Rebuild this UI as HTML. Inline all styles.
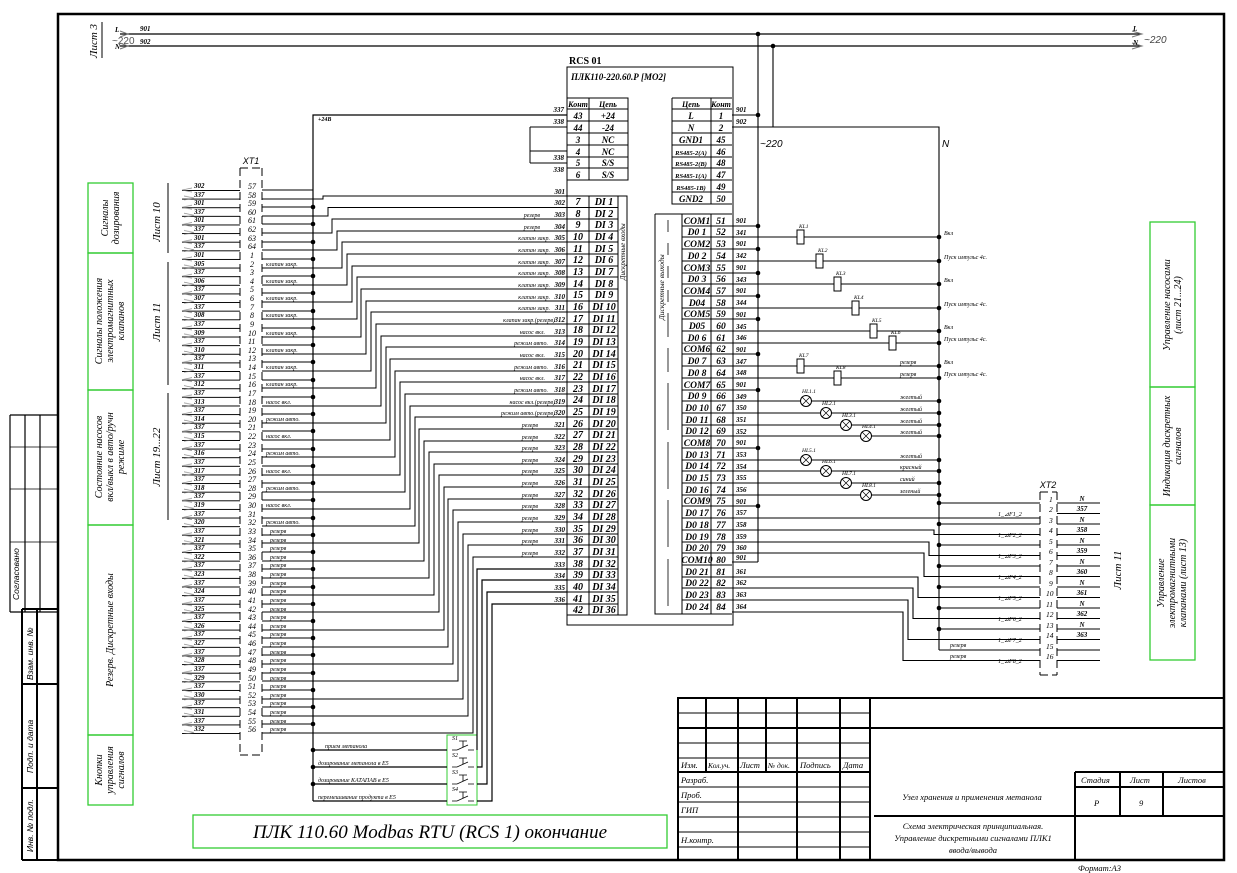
<!DOCTYPE html>
<html><head><meta charset="utf-8"><style>
html,body{margin:0;padding:0;background:#fff}
svg{display:block}
text{font-family:"Liberation Serif",serif;font-style:italic;fill:#000}
.n{font-size:7px;font-weight:bold}
.t{font-size:6px;font-style:normal}
.tb{font-size:10px;font-weight:bold;font-style:normal}
.tn{font-size:9px;font-style:italic}
.g{font-family:"Liberation Sans",sans-serif;font-style:italic;font-size:8.5px}
.gl{font-size:10px}
</style></head><body>
<svg width="1237" height="873" viewBox="0 0 1237 873" xmlns="http://www.w3.org/2000/svg">
<defs>
<pattern id="rows" x="0" y="190" width="60" height="8.62" patternUnits="userSpaceOnUse"><line x1="0" y1="0.5" x2="60" y2="0.5" stroke="#000" stroke-width="1"/></pattern>
<pattern id="arr" x="0" y="186" width="20" height="17.24" patternUnits="userSpaceOnUse"><path d="M12 2L2 4L12 6M4 10L14 12L4 14" stroke="#888" fill="none" stroke-width="0.7"/></pattern>
</defs>
<rect width="1237" height="873" fill="#fff"/>
<!-- frame -->
<path d="M58 14H1224V860H58Z" fill="none" stroke="#000" stroke-width="2.5"/>
<!-- left strip -->
<g stroke="#000" fill="none" stroke-width="1.2">
<path d="M10 415H58M10 415V612M25 415V612M40 415V612M10 612H58"/>
<path d="M22 609H58M22 609V860M37 609V860M22 684H58M22 788H58M22 860H58" stroke-width="2"/>
<path d="M10 447H25M10 489H25M10 542H25M25 447H58M25 489H58M25 542H58" stroke-width="0.8"/>
</g>
<text class="g" transform="translate(19,600) rotate(-90)">Согласовано</text>
<text class="g" transform="translate(33,680) rotate(-90)">Взам. инв. №</text>
<text class="g" transform="translate(33,773) rotate(-90)">Подп. и дата</text>
<text class="g" transform="translate(33,852) rotate(-90)">Инв. № подл.</text>
<!-- Лист 3 -->
<text class="gl" style="font-size:11px" transform="translate(97,58) rotate(-90)">Лист 3</text>
<line x1="102" y1="22" x2="102" y2="58" stroke="#000"/>
<!-- power lines -->
<g stroke="#000" stroke-width="1.2"><line x1="120" y1="34" x2="1140" y2="34"/><line x1="120" y1="46" x2="1140" y2="46"/></g>
<text class="n" x="115" y="32">L</text><text class="n" x="140" y="31">901</text>
<text class="n" x="115" y="49">N</text><text class="n" x="140" y="44">902</text>
<text style="font-size:10px;fill:#555;font-style:normal;font-family:'Liberation Sans',sans-serif" x="112" y="44">~220</text>
<path d="M1132 31L1142 34L1132 37M1132 43L1142 46L1132 49M120 31L128 34L120 37M120 43L128 46L120 49" stroke="#777" fill="none"/>
<text class="n" x="1133" y="31">L</text><text class="n" x="1133" y="45">N</text>
<text style="font-size:10px;fill:#444;font-family:'Liberation Sans',sans-serif" x="1144" y="43">~220</text>
<!-- green boxes left -->
<g fill="none" stroke="#3c3" stroke-width="1.3">
<rect x="88" y="183" width="45" height="70"/><rect x="88" y="253" width="45" height="137"/><rect x="88" y="390" width="45" height="135"/><rect x="88" y="525" width="45" height="210"/><rect x="88" y="735" width="45" height="70"/>
<rect x="1150" y="222" width="45" height="165"/><rect x="1150" y="387" width="45" height="118"/><rect x="1150" y="505" width="45" height="155"/>
<rect x="193" y="815" width="474" height="33"/>
<rect x="447" y="735" width="30" height="70" stroke-width="1"/>
</g>
<g style="font-size:10px" text-anchor="middle">
<text transform="translate(110,218) rotate(-90)"><tspan x="0" dy="-2">Сигналы</tspan><tspan x="0" dy="11">дозирования</tspan></text>
<text transform="translate(110,321) rotate(-90)"><tspan x="0" dy="-8">Сигналы положения</tspan><tspan x="0" dy="11">электромагнитных</tspan><tspan x="0" dy="11">клапанов</tspan></text>
<text transform="translate(110,457) rotate(-90)"><tspan x="0" dy="-8">Состояние насосов</tspan><tspan x="0" dy="11">вкл/выкл в авто/ручн</tspan><tspan x="0" dy="11">режиме</tspan></text>
<text transform="translate(113,630) rotate(-90)">Резерв. Дискретные входы</text>
<text transform="translate(110,770) rotate(-90)"><tspan x="0" dy="-8">Кнопки</tspan><tspan x="0" dy="11">управления</tspan><tspan x="0" dy="11">сигналов</tspan></text>
<text transform="translate(1172,305) rotate(-90)"><tspan x="0" dy="-2">Управление насосами</tspan><tspan x="0" dy="11">(лист 21...24)</tspan></text>
<text transform="translate(1172,446) rotate(-90)"><tspan x="0" dy="-2">Индикация дискретных</tspan><tspan x="0" dy="11">сигналов</tspan></text>
<text transform="translate(1172,583) rotate(-90)"><tspan x="0" dy="-8">Управление</tspan><tspan x="0" dy="11">электромагнитными</tspan><tspan x="0" dy="11">клапанами (лист 13)</tspan></text>
<text style="font-size:11px" transform="translate(160,222) rotate(-90)">Лист 10</text>
<text style="font-size:11px" transform="translate(160,322) rotate(-90)">Лист 11</text>
<text style="font-size:11px" transform="translate(160,457) rotate(-90)">Лист 19...22</text>
<text style="font-size:11px" transform="translate(1121,570) rotate(-90)">Лист 11</text>
</g>
<g stroke="#000"><line x1="168" y1="183" x2="168" y2="253"/><line x1="168" y1="262" x2="168" y2="385"/><line x1="168" y1="393" x2="168" y2="520"/></g>
<text x="430" y="838" text-anchor="middle" style="font-size:19px">ПЛК 110.60 Modbas RTU (RCS 1) окончание</text>

<!-- XT1 -->
<text x="251" y="164" text-anchor="middle" style="font-size:9px;font-family:'Liberation Sans',sans-serif">XT1</text>
<path d="M240 168V755M262 168V755M240 168H262M240 755H262" stroke="#000" stroke-dasharray="8,4" fill="none"/>
<rect x="182" y="189" width="58" height="546" fill="url(#rows)"/>
<rect x="180" y="186" width="20" height="548" fill="url(#arr)"/>
<!-- even rows to bus -->
<path stroke="#000" fill="none" d="M262 190H313M262 207H313M262 224H313M262 242H313M262 259H313M262 276H313M262 293H313M262 311H313M262 328H313M262 345H313M262 362H313M262 380H313M262 397H313M262 414H313M262 431H313M262 449H313M262 466H313M262 483H313M262 500H313M262 518H313M262 535H313M262 552H313M262 569H313M262 587H313M262 604H313M262 621H313M262 638H313M262 655H313M262 673H313M262 690H313M262 707H313M262 724H313"/>
<!-- bus -->
<path stroke="#000" fill="none" stroke-width="1.2" d="M313 801V115H567M313 750H447M313 767H447M313 784H447M313 801H447M477 750H477V569H567M477 767H482V580H567M477 784H487V592H567M477 801H492V604H567"/>
<g fill="#000">
<circle cx="313" cy="207" r="2.3"/><circle cx="313" cy="224" r="2.3"/><circle cx="313" cy="242" r="2.3"/><circle cx="313" cy="259" r="2.3"/><circle cx="313" cy="276" r="2.3"/><circle cx="313" cy="293" r="2.3"/><circle cx="313" cy="311" r="2.3"/><circle cx="313" cy="328" r="2.3"/><circle cx="313" cy="345" r="2.3"/><circle cx="313" cy="362" r="2.3"/><circle cx="313" cy="380" r="2.3"/><circle cx="313" cy="397" r="2.3"/><circle cx="313" cy="414" r="2.3"/><circle cx="313" cy="431" r="2.3"/><circle cx="313" cy="449" r="2.3"/><circle cx="313" cy="466" r="2.3"/><circle cx="313" cy="483" r="2.3"/><circle cx="313" cy="500" r="2.3"/><circle cx="313" cy="518" r="2.3"/><circle cx="313" cy="535" r="2.3"/><circle cx="313" cy="552" r="2.3"/><circle cx="313" cy="569" r="2.3"/><circle cx="313" cy="587" r="2.3"/><circle cx="313" cy="604" r="2.3"/><circle cx="313" cy="621" r="2.3"/><circle cx="313" cy="638" r="2.3"/><circle cx="313" cy="655" r="2.3"/><circle cx="313" cy="673" r="2.3"/><circle cx="313" cy="690" r="2.3"/><circle cx="313" cy="707" r="2.3"/><circle cx="313" cy="724" r="2.3"/><circle cx="313" cy="750" r="2.3"/><circle cx="313" cy="767" r="2.3"/><circle cx="313" cy="784" r="2.3"/>
</g>
<text class="n" x="318" y="121" style="font-size:6px">+24В</text>
<!-- signal staircase -->
<path stroke="#000" fill="none" d="
M262 199H323V196H567M262 216H328V207.5H567M262 233H332V219H567M262 250H337V231H567
M262 268H342V242H567M262 285H347V254H567M262 302H352V266H567M262 319H357V277H567
M262 337H361V289H567M262 354H366V301H567M262 371H371V312H567M262 388H376V324H567
M262 406H381V336H567M262 423H386V347H567M262 440H390V359H567M262 457H395V371H567
M262 475H400V382H567M262 492H405V394H567M262 509H410V406H567M262 526H415V417H567
M262 543H419V429H567M262 561H424V441H567M262 578H429V452H567M262 595H434V464H567
M262 612H439V475H567M262 630H444V487H567M262 647H448V499H567M262 664H453V510H567
M262 681H458V522H567M262 699H463V534H567M262 716H468V545H567M262 733H473V557H567"/>
<!-- XT1 row numbers -->
<g class="n" x="0">
<text x="194" y="188">302</text><text x="194" y="197">337</text><text x="194" y="205">301</text><text x="194" y="214">337</text><text x="194" y="222">301</text><text x="194" y="231">337</text><text x="194" y="240">301</text><text x="194" y="248">337</text><text x="194" y="257">301</text><text x="194" y="266">305</text><text x="194" y="274">337</text><text x="194" y="283">306</text><text x="194" y="291">337</text><text x="194" y="300">307</text><text x="194" y="309">337</text><text x="194" y="317">308</text><text x="194" y="326">337</text><text x="194" y="335">309</text><text x="194" y="343">337</text><text x="194" y="352">310</text><text x="194" y="360">337</text><text x="194" y="369">311</text><text x="194" y="378">337</text><text x="194" y="386">312</text><text x="194" y="395">337</text><text x="194" y="404">313</text><text x="194" y="412">337</text><text x="194" y="421">314</text><text x="194" y="429">337</text><text x="194" y="438">315</text><text x="194" y="447">337</text><text x="194" y="455">316</text><text x="194" y="464">337</text><text x="194" y="473">317</text><text x="194" y="481">337</text><text x="194" y="490">318</text><text x="194" y="498">337</text><text x="194" y="507">319</text><text x="194" y="516">337</text><text x="194" y="524">320</text><text x="194" y="533">337</text><text x="194" y="542">321</text><text x="194" y="550">337</text><text x="194" y="559">322</text><text x="194" y="567">337</text><text x="194" y="576">323</text><text x="194" y="585">337</text><text x="194" y="593">324</text><text x="194" y="602">337</text><text x="194" y="611">325</text><text x="194" y="619">337</text><text x="194" y="628">326</text><text x="194" y="636">337</text><text x="194" y="645">327</text><text x="194" y="654">337</text><text x="194" y="662">328</text><text x="194" y="671">337</text><text x="194" y="680">329</text><text x="194" y="688">337</text><text x="194" y="697">330</text><text x="194" y="705">337</text><text x="194" y="714">331</text><text x="194" y="723">337</text><text x="194" y="731">332</text>
</g>
<g style="font-size:8px" x="0">
<text x="248" y="189">57</text><text x="248" y="198">58</text><text x="248" y="206">59</text><text x="248" y="215">60</text><text x="248" y="223">61</text><text x="248" y="232">62</text><text x="248" y="241">63</text><text x="248" y="249">64</text><text x="250" y="258">1</text><text x="250" y="267">2</text><text x="250" y="275">3</text><text x="250" y="284">4</text><text x="250" y="292">5</text><text x="250" y="301">6</text><text x="250" y="310">7</text><text x="250" y="318">8</text><text x="250" y="327">9</text><text x="248" y="336">10</text><text x="248" y="344">11</text><text x="248" y="353">12</text><text x="248" y="361">13</text><text x="248" y="370">14</text><text x="248" y="379">15</text><text x="248" y="387">16</text><text x="248" y="396">17</text><text x="248" y="405">18</text><text x="248" y="413">19</text><text x="248" y="422">20</text><text x="248" y="430">21</text><text x="248" y="439">22</text><text x="248" y="448">23</text><text x="248" y="456">24</text><text x="248" y="465">25</text><text x="248" y="474">26</text><text x="248" y="482">27</text><text x="248" y="491">28</text><text x="248" y="499">29</text><text x="248" y="508">30</text><text x="248" y="517">31</text><text x="248" y="525">32</text><text x="248" y="534">33</text><text x="248" y="543">34</text><text x="248" y="551">35</text><text x="248" y="560">36</text><text x="248" y="568">37</text><text x="248" y="577">38</text><text x="248" y="586">39</text><text x="248" y="594">40</text><text x="248" y="603">41</text><text x="248" y="612">42</text><text x="248" y="620">43</text><text x="248" y="629">44</text><text x="248" y="637">45</text><text x="248" y="646">46</text><text x="248" y="655">47</text><text x="248" y="663">48</text><text x="248" y="672">49</text><text x="248" y="681">50</text><text x="248" y="689">51</text><text x="248" y="698">52</text><text x="248" y="706">53</text><text x="248" y="715">54</text><text x="248" y="724">55</text><text x="248" y="732">56</text>
</g>
<g class="t">
<text x="266" y="266">клапан закр.</text><text x="266" y="283">клапан закр.</text><text x="266" y="300">клапан закр.</text><text x="266" y="317">клапан закр.</text><text x="266" y="335">клапан закр.</text><text x="266" y="352">клапан закр.</text><text x="266" y="369">клапан закр.</text><text x="266" y="386">клапан закр.</text>
<text x="266" y="404">насос вкл.</text><text x="266" y="421">режим авто.</text><text x="266" y="438">насос вкл.</text><text x="266" y="455">режим авто.</text><text x="266" y="473">насос вкл.</text><text x="266" y="490">режим авто.</text><text x="266" y="507">насос вкл.</text><text x="266" y="524">режим авто.</text>
<text x="270" y="533">резерв</text><text x="270" y="542">резерв</text><text x="270" y="550">резерв</text><text x="270" y="559">резерв</text><text x="270" y="567">резерв</text><text x="270" y="576">резерв</text><text x="270" y="585">резерв</text><text x="270" y="593">резерв</text><text x="270" y="602">резерв</text><text x="270" y="611">резерв</text><text x="270" y="619">резерв</text><text x="270" y="628">резерв</text><text x="270" y="636">резерв</text><text x="270" y="645">резерв</text><text x="270" y="654">резерв</text><text x="270" y="662">резерв</text><text x="270" y="671">резерв</text><text x="270" y="680">резерв</text><text x="270" y="688">резерв</text><text x="270" y="697">резерв</text><text x="270" y="705">резерв</text><text x="270" y="714">резерв</text><text x="270" y="723">резерв</text><text x="270" y="731">резерв</text>
<text x="325" y="748">прием метанола</text><text x="318" y="765">дозирование метанола в Е5</text><text x="318" y="782">дозирование КАТАПАВ в Е5</text><text x="318" y="799">перемешивание продукта в Е5</text>
</g>
<!-- buttons -->
<g stroke="#000" fill="none" stroke-width="0.8">
<path d="M452 750H457L468 745M468 750H474M463 741V747M459 741H467"/>
<path d="M452 767H457L468 762M468 767H474M463 758V764M459 758H467"/>
<path d="M452 784H457L468 779M468 784H474M463 775V781M459 775H467"/>
<path d="M452 801H457L468 796M468 801H474M463 792V798M459 792H467"/>
</g>
<g style="font-size:6px"><text x="452" y="740">S1</text><text x="452" y="757">S2</text><text x="452" y="774">S3</text><text x="452" y="791">S4</text></g>

<!-- DI labels -->
<g class="n" text-anchor="end">
<text x="565" y="194">301</text><text x="565" y="205">302</text><text x="565" y="217">303</text><text x="565" y="229">304</text><text x="565" y="240">305</text><text x="565" y="252">306</text><text x="565" y="264">307</text><text x="565" y="275">308</text><text x="565" y="287">309</text><text x="565" y="299">310</text><text x="565" y="310">311</text><text x="565" y="322">312</text><text x="565" y="334">313</text><text x="565" y="345">314</text><text x="565" y="357">315</text><text x="565" y="369">316</text><text x="565" y="380">317</text><text x="565" y="392">318</text><text x="565" y="404">319</text><text x="565" y="415">320</text><text x="565" y="427">321</text><text x="565" y="439">322</text><text x="565" y="450">323</text><text x="565" y="462">324</text><text x="565" y="473">325</text><text x="565" y="485">326</text><text x="565" y="497">327</text><text x="565" y="508">328</text><text x="565" y="520">329</text><text x="565" y="532">330</text><text x="565" y="543">331</text><text x="565" y="555">332</text><text x="565" y="567">333</text><text x="565" y="578">334</text><text x="565" y="590">335</text><text x="565" y="602">336</text>
</g>
<g class="t" text-anchor="end">
<text x="540" y="217">резерв</text><text x="540" y="229">резерв</text><text x="550" y="240">клапан закр.</text><text x="550" y="252">клапан закр.</text><text x="550" y="264">клапан закр.</text><text x="550" y="275">клапан закр.</text><text x="550" y="287">клапан закр.</text><text x="550" y="299">клапан закр.</text><text x="550" y="310">клапан закр.</text><text x="555" y="322">клапан закр.(резерв)</text><text x="545" y="334">насос вкл.</text><text x="548" y="345">режим авто.</text><text x="545" y="357">насос вкл.</text><text x="548" y="369">режим авто.</text><text x="545" y="380">насос вкл.</text><text x="548" y="392">режим авто.</text><text x="555" y="404">насос вкл.(резерв)</text><text x="555" y="415">режим авто.(резерв)</text><text x="538" y="427">резерв</text><text x="538" y="439">резерв</text><text x="538" y="450">резерв</text><text x="538" y="462">резерв</text><text x="538" y="473">резерв</text><text x="538" y="485">резерв</text><text x="538" y="497">резерв</text><text x="538" y="508">резерв</text><text x="538" y="520">резерв</text><text x="538" y="532">резерв</text><text x="538" y="543">резерв</text><text x="538" y="555">резерв</text>
</g>

<!-- PLC box -->
<text x="569" y="64" style="font-size:10px;font-weight:bold;font-style:normal">RCS 01</text>
<g stroke="#000" fill="none">
<rect x="567" y="67" width="166" height="558"/>
<path d="M567 98H628V180H567M589 98V180M567 109H628M567 121H628M567 133H628M567 145H628M567 157H628M567 168H628"/>
<path d="M672 98H732M672 98V204H732M711 98V204M672 109H732M672 121H732M672 133H732M672 145H732M672 157H732M672 168H732M672 180H732M672 192H732"/>
<path d="M540 115H567M530 127H567M530 127V163M530 151H567M530 163H567"/>
<path d="M567 196H627V615H567M589 196V615M618 196V615"/>
<path d="M567 207.5H618M567 219H618M567 231H618M567 242H618M567 254H618M567 266H618M567 277H618M567 289H618M567 301H618M567 312H618M567 324H618M567 336H618M567 347H618M567 359H618M567 371H618M567 382H618M567 394H618M567 406H618M567 417H618M567 429H618M567 441H618M567 452H618M567 464H618M567 475H618M567 487H618M567 499H618M567 510H618M567 522H618M567 534H618M567 545H618M567 557H618M567 569H618M567 580H618M567 592H618M567 604H618"/>
</g>
<text x="571" y="80" style="font-size:9px;font-weight:bold">ПЛК110-220.60.Р [МО2]</text>
<g class="n" text-anchor="end"><text x="564" y="112">337</text><text x="564" y="124">338</text><text x="564" y="160">338</text><text x="564" y="172">338</text></g>
<g style="font-size:9px;font-weight:bold;font-style:normal" text-anchor="middle">
<text x="578" y="107" style="font-size:8px">Конт</text><text x="608" y="107" style="font-size:8px">Цепь</text>
<text x="578" y="119">43</text><text x="608" y="119">+24</text><text x="578" y="131">44</text><text x="608" y="131">-24</text><text x="578" y="143">3</text><text x="608" y="143">NC</text><text x="578" y="155">4</text><text x="608" y="155">NC</text><text x="578" y="166">5</text><text x="608" y="166">S/S</text><text x="578" y="178">6</text><text x="608" y="178">S/S</text>
<text x="691" y="107" style="font-size:8px">Цепь</text><text x="721" y="107" style="font-size:8px">Конт</text>
<text x="691" y="119">L</text><text x="721" y="119">1</text><text x="691" y="131">N</text><text x="721" y="131">2</text><text x="691" y="143">GND1</text><text x="721" y="143">45</text>
<text x="691" y="155" style="font-size:6.5px">RS485-2(A)</text><text x="721" y="155">46</text><text x="691" y="166" style="font-size:6.5px">RS485-2(B)</text><text x="721" y="166">48</text><text x="691" y="178" style="font-size:6.5px">RS485-1(A)</text><text x="721" y="178">47</text><text x="691" y="190" style="font-size:6.5px">RS485-1B)</text><text x="721" y="190">49</text><text x="691" y="202">GND2</text><text x="721" y="202">50</text>
</g>
<g class="tb" text-anchor="middle">
<text x="578" y="205">7</text><text x="604" y="205">DI 1</text><text x="578" y="217">8</text><text x="604" y="217">DI 2</text><text x="578" y="228">9</text><text x="604" y="228">DI 3</text><text x="578" y="240">10</text><text x="604" y="240">DI 4</text><text x="578" y="252">11</text><text x="604" y="252">DI 5</text><text x="578" y="263">12</text><text x="604" y="263">DI 6</text><text x="578" y="275">13</text><text x="604" y="275">DI 7</text><text x="578" y="287">14</text><text x="604" y="287">DI 8</text><text x="578" y="298">15</text><text x="604" y="298">DI 9</text><text x="578" y="310">16</text><text x="604" y="310">DI 10</text><text x="578" y="322">17</text><text x="604" y="322">DI 11</text><text x="578" y="333">18</text><text x="604" y="333">DI 12</text><text x="578" y="345">19</text><text x="604" y="345">DI 13</text><text x="578" y="357">20</text><text x="604" y="357">DI 14</text><text x="578" y="368">21</text><text x="604" y="368">DI 15</text><text x="578" y="380">22</text><text x="604" y="380">DI 16</text><text x="578" y="392">23</text><text x="604" y="392">DI 17</text><text x="578" y="403">24</text><text x="604" y="403">DI 18</text><text x="578" y="415">25</text><text x="604" y="415">DI 19</text><text x="578" y="427">26</text><text x="604" y="427">DI 20</text><text x="578" y="438">27</text><text x="604" y="438">DI 21</text><text x="578" y="450">28</text><text x="604" y="450">DI 22</text><text x="578" y="462">29</text><text x="604" y="462">DI 23</text><text x="578" y="473">30</text><text x="604" y="473">DI 24</text><text x="578" y="485">31</text><text x="604" y="485">DI 25</text><text x="578" y="497">32</text><text x="604" y="497">DI 26</text><text x="578" y="508">33</text><text x="604" y="508">DI 27</text><text x="578" y="520">34</text><text x="604" y="520">DI 28</text><text x="578" y="532">35</text><text x="604" y="532">DI 29</text><text x="578" y="543">36</text><text x="604" y="543">DI 30</text><text x="578" y="555">37</text><text x="604" y="555">DI 31</text><text x="578" y="567">38</text><text x="604" y="567">DI 32</text><text x="578" y="578">39</text><text x="604" y="578">DI 33</text><text x="578" y="590">40</text><text x="604" y="590">DI 34</text><text x="578" y="602">41</text><text x="604" y="602">DI 35</text><text x="578" y="613">42</text><text x="604" y="613">DI 36</text>
</g>
<text style="font-size:7px" transform="translate(625,280) rotate(-90)">Дискретные входы</text>

<!-- DO table -->
<g stroke="#000" fill="none">
<path d="M655 214H732M655 214V614H732M682 214V614M711 214V614"/>
<path d="M682 226H732M682 237H732M682 249H732M682 261H732M682 273H732M682 284H732M682 296H732M682 308H732M682 319H732M682 331H732M682 343H732M682 354H732M682 366H732M682 378H732M682 390H732M682 401H732M682 413H732M682 425H732M682 436H732M682 448H732M682 460H732M682 471H732M682 483H732M682 495H732M682 506H732M682 518H732M682 530H732M682 542H732M682 553H732M682 565H732M682 577H732M682 588H732M682 600H732"/>
<path d="M668 220V232M668 243V255M668 266V278M668 290V302M668 313V337M668 348V372M668 383V430M668 442V489M668 500V547M668 559V606" stroke-width="0.8"/>
</g>
<text style="font-size:7.5px" transform="translate(664,320) rotate(-90)">Дискретные выходы</text>
<g class="tb" text-anchor="middle" style="font-size:9.5px">
<text x="697" y="224">COM1</text><text x="721" y="224">51</text><text x="697" y="235">D0 1</text><text x="721" y="235">52</text><text x="697" y="247">COM2</text><text x="721" y="247">53</text><text x="697" y="259">D0 2</text><text x="721" y="259">54</text><text x="697" y="271">COM3</text><text x="721" y="271">55</text><text x="697" y="282">D0 3</text><text x="721" y="282">56</text><text x="697" y="294">COM4</text><text x="721" y="294">57</text><text x="697" y="306">D04</text><text x="721" y="306">58</text><text x="697" y="317">COM5</text><text x="721" y="317">59</text><text x="697" y="329">D05</text><text x="721" y="329">60</text><text x="697" y="341">D0 6</text><text x="721" y="341">61</text><text x="697" y="352">COM6</text><text x="721" y="352">62</text><text x="697" y="364">D0 7</text><text x="721" y="364">63</text><text x="697" y="376">D0 8</text><text x="721" y="376">64</text><text x="697" y="388">COM7</text><text x="721" y="388">65</text><text x="697" y="399">D0 9</text><text x="721" y="399">66</text><text x="697" y="411">D0 10</text><text x="721" y="411">67</text><text x="697" y="423">D0 11</text><text x="721" y="423">68</text><text x="697" y="434">D0 12</text><text x="721" y="434">69</text><text x="697" y="446">COM8</text><text x="721" y="446">70</text><text x="697" y="458">D0 13</text><text x="721" y="458">71</text><text x="697" y="469">D0 14</text><text x="721" y="469">72</text><text x="697" y="481">D0 15</text><text x="721" y="481">73</text><text x="697" y="493">D0 16</text><text x="721" y="493">74</text><text x="697" y="504">COM9</text><text x="721" y="504">75</text><text x="697" y="516">D0 17</text><text x="721" y="516">76</text><text x="697" y="528">D0 18</text><text x="721" y="528">77</text><text x="697" y="540">D0 19</text><text x="721" y="540">78</text><text x="697" y="551">D0 20</text><text x="721" y="551">79</text><text x="697" y="563">COM10</text><text x="721" y="563">80</text><text x="697" y="575">D0 21</text><text x="721" y="575">81</text><text x="697" y="586">D0 22</text><text x="721" y="586">82</text><text x="697" y="598">D0 23</text><text x="721" y="598">83</text><text x="697" y="610">D0 24</text><text x="721" y="610">84</text>
</g>
<!-- DO wiring -->
<g stroke="#000" fill="none" stroke-width="1.1">
<path d="M732 115H758M732 127H939V650M758 34V562M773 46V127"/>
<path d="M732 226H758M732 249H758M732 273H758M732 296H758M732 319H758M732 354H758M732 390H758M732 448H758M732 506H758M732 562H758"/>
<path d="M732 237H939M732 261H939M732 284H939M732 308H939M732 331H939M732 343H939M732 366H939M732 378H939"/>
<path d="M732 401H939M732 413H939M732 425H939M732 436H939M732 460H939M732 471H939M732 483H939M732 495H939"/>
<path d="M732 518H1040M732 530H934V534.5H1040M732 542H929V555.5H1040M732 553H924V576.5H1040M732 577H918V597.5H1040M732 588H913V618.5H1040M732 600H908V639.5H1040M732 612H903V660.5H1040"/>
<path d="M939 503H1040M939 524H1040M939 545H1040M939 566H1040M939 587H1040M939 608H1040M939 629H1040M939 650H1040"/>
<path d="M1057 503H1100M1057 513.5H1100M1057 524H1100M1057 534.5H1100M1057 545H1100M1057 555.5H1100M1057 566H1100M1057 576.5H1100M1057 587H1100M1057 597.5H1100M1057 608H1100M1057 618.5H1100M1057 629H1100M1057 639.5H1100M1057 650H1100M1057 660.5H1100"/>
</g>
<g fill="#000">
<circle cx="758" cy="34" r="2.3"/><circle cx="773" cy="46" r="2.3"/><circle cx="758" cy="115" r="2.3"/>
<circle cx="758" cy="226" r="2.3"/><circle cx="758" cy="249" r="2.3"/><circle cx="758" cy="273" r="2.3"/><circle cx="758" cy="296" r="2.3"/><circle cx="758" cy="319" r="2.3"/><circle cx="758" cy="354" r="2.3"/><circle cx="758" cy="390" r="2.3"/><circle cx="758" cy="448" r="2.3"/><circle cx="758" cy="506" r="2.3"/>
<circle cx="939" cy="237" r="2.3"/><circle cx="939" cy="261" r="2.3"/><circle cx="939" cy="284" r="2.3"/><circle cx="939" cy="308" r="2.3"/><circle cx="939" cy="331" r="2.3"/><circle cx="939" cy="343" r="2.3"/><circle cx="939" cy="366" r="2.3"/><circle cx="939" cy="378" r="2.3"/><circle cx="939" cy="401" r="2.3"/><circle cx="939" cy="413" r="2.3"/><circle cx="939" cy="425" r="2.3"/><circle cx="939" cy="436" r="2.3"/><circle cx="939" cy="460" r="2.3"/><circle cx="939" cy="471" r="2.3"/><circle cx="939" cy="483" r="2.3"/><circle cx="939" cy="495" r="2.3"/>
<circle cx="939" cy="503" r="2.3"/><circle cx="939" cy="524" r="2.3"/><circle cx="939" cy="545" r="2.3"/><circle cx="939" cy="566" r="2.3"/><circle cx="939" cy="587" r="2.3"/><circle cx="939" cy="608" r="2.3"/><circle cx="939" cy="629" r="2.3"/>
</g>
<text style="font-size:10px;font-family:'Liberation Sans',sans-serif" x="760" y="147">~220</text>
<text style="font-size:10px;font-family:'Liberation Sans',sans-serif" x="942" y="147">N</text>
<g class="n">
<text x="736" y="112">901</text><text x="736" y="124">902</text>
<text x="736" y="223">901</text><text x="736" y="235">341</text><text x="736" y="246">901</text><text x="736" y="258">342</text><text x="736" y="270">901</text><text x="736" y="282">343</text><text x="736" y="293">901</text><text x="736" y="305">344</text><text x="736" y="317">901</text><text x="736" y="329">345</text><text x="736" y="340">346</text><text x="736" y="352">901</text><text x="736" y="364">347</text><text x="736" y="375">348</text><text x="736" y="387">901</text><text x="736" y="399">349</text><text x="736" y="410">350</text><text x="736" y="422">351</text><text x="736" y="434">352</text><text x="736" y="445">901</text><text x="736" y="457">353</text><text x="736" y="469">354</text><text x="736" y="480">355</text><text x="736" y="492">356</text><text x="736" y="504">901</text><text x="736" y="515">357</text><text x="736" y="527">358</text><text x="736" y="539">359</text><text x="736" y="550">360</text><text x="736" y="560">901</text><text x="736" y="574">361</text><text x="736" y="585">362</text><text x="736" y="597">363</text><text x="736" y="609">364</text>
</g>
<!-- relays -->
<g fill="#fff" stroke="#000">
<rect x="797" y="230" width="7" height="14"/><rect x="816" y="254" width="7" height="14"/><rect x="834" y="277" width="7" height="14"/><rect x="852" y="301" width="7" height="14"/><rect x="870" y="324" width="7" height="14"/><rect x="889" y="336" width="7" height="14"/><rect x="797" y="359" width="7" height="14"/><rect x="834" y="371" width="7" height="14"/>
<circle cx="806" cy="401" r="5.5"/><circle cx="826" cy="413" r="5.5"/><circle cx="846" cy="425" r="5.5"/><circle cx="866" cy="436" r="5.5"/>
<circle cx="806" cy="460" r="5.5"/><circle cx="826" cy="471" r="5.5"/><circle cx="846" cy="483" r="5.5"/><circle cx="866" cy="495" r="5.5"/>
</g>
<path stroke="#000" stroke-width="0.7" d="M802 397L810 405M810 397L802 405M822 409L830 417M830 409L822 417M842 421L850 429M850 421L842 429M862 432L870 440M870 432L862 440M802 456L810 464M810 456L802 464M822 467L830 475M830 467L822 475M842 479L850 487M850 479L842 487M862 491L870 499M870 491L862 499"/>
<g style="font-size:5.5px">
<text x="799" y="228">KL1</text><text x="818" y="252">KL2</text><text x="836" y="275">KL3</text><text x="854" y="299">KL4</text><text x="872" y="322">KL5</text><text x="891" y="334">KL6</text><text x="799" y="357">KL7</text><text x="836" y="369">KL8</text>
<text x="802" y="393">HL1.1</text><text x="822" y="405">HL2.1</text><text x="842" y="417">HL3.1</text><text x="862" y="428">HL4.1</text><text x="802" y="452">HL5.1</text><text x="822" y="463">HL6.1</text><text x="842" y="475">HL7.1</text><text x="862" y="487">HL8.1</text>
</g>
<g style="font-size:6px">
<text x="944" y="235">Вкл</text><text x="944" y="259">Пуск импульс 4с.</text><text x="944" y="282">Вкл</text><text x="944" y="306">Пуск импульс 4с.</text><text x="944" y="329">Вкл</text><text x="944" y="341">Пуск импульс 4с.</text><text x="944" y="364">Вкл</text><text x="944" y="376">Пуск импульс 4с.</text>
<text x="900" y="364">резерв</text><text x="900" y="376">резерв</text>
<text x="900" y="399">желтый</text><text x="900" y="411">желтый</text><text x="900" y="423">желтый</text><text x="900" y="434">желтый</text><text x="900" y="458">желтый</text><text x="900" y="469">красный</text><text x="900" y="481">синий</text><text x="900" y="493">зеленый</text>
<text x="950" y="647">резерв</text><text x="950" y="658">резерв</text>
<text x="998" y="516">1_⊿F1_2</text><text x="998" y="537">1_⊿F2_2</text><text x="998" y="558">1_⊿F3_2</text><text x="998" y="579">1_⊿F4_2</text><text x="998" y="600">1_⊿F5_2</text><text x="998" y="621">1_⊿F6_2</text><text x="998" y="642">1_⊿F7_2</text><text x="998" y="663">1_⊿F8_2</text>
</g>
<!-- XT2 -->
<text x="1048" y="488" text-anchor="middle" style="font-size:9px;font-family:'Liberation Sans',sans-serif">XT2</text>
<path d="M1040 492V675M1057 492V675M1040 492H1057M1040 675H1057" stroke="#000" stroke-dasharray="8,4" fill="none"/>
<g style="font-size:7.5px">
<text x="1049" y="502">1</text><text x="1049" y="512">2</text><text x="1049" y="523">3</text><text x="1049" y="533">4</text><text x="1049" y="544">5</text><text x="1049" y="554">6</text><text x="1049" y="565">7</text><text x="1049" y="575">8</text><text x="1049" y="586">9</text><text x="1046" y="596">10</text><text x="1046" y="607">11</text><text x="1046" y="617">12</text><text x="1046" y="628">13</text><text x="1046" y="638">14</text><text x="1046" y="649">15</text><text x="1046" y="659">16</text>
</g>
<g class="n" text-anchor="middle">
<text x="1082" y="501">N</text><text x="1082" y="511">357</text><text x="1082" y="522">N</text><text x="1082" y="532">358</text><text x="1082" y="543">N</text><text x="1082" y="553">359</text><text x="1082" y="564">N</text><text x="1082" y="574">360</text><text x="1082" y="585">N</text><text x="1082" y="595">361</text><text x="1082" y="606">N</text><text x="1082" y="616">362</text><text x="1082" y="627">N</text><text x="1082" y="637">363</text>
</g>

<!-- title block -->
<g stroke="#000" fill="none">
<path d="M678 698H1224V860H678Z" stroke-width="2"/>
<path d="M678 713H870M678 743H870M678 758H870M678 787H870M678 802H870M678 817H870M678 832H870M678 847H870" stroke-width="1"/>
<path d="M678 728H1224M678 772H870M874 816H1224M1075 772H1224M1075 787H1224" stroke-width="2"/>
<path d="M706 698V772M766 698V772M738 698V860M797 698V860M840 698V860M870 698V860M1075 772V860M1120 772V816M1163 772V816" stroke-width="2"/>
</g>
<g class="g">
<text x="681" y="768">Изм.</text><text x="708" y="768" style="font-size:7.5px">Кол.уч.</text><text x="740" y="768">Лист</text><text x="768" y="768" style="font-size:7.5px">№ док.</text><text x="800" y="768">Подпись</text><text x="843" y="768">Дата</text>
<text x="681" y="783">Разраб.</text><text x="681" y="798">Проб.</text><text x="681" y="813">ГИП</text><text x="681" y="843">Н.контр.</text>
<text x="1081" y="783">Стадия</text><text x="1130" y="783">Лист</text><text x="1178" y="783">Листов</text>
<text x="1094" y="806">Р</text><text x="1139" y="806">9</text>
<text x="972" y="800" text-anchor="middle">Узел хранения и применения метанола</text>
<text x="973" y="829" text-anchor="middle">Схема электрическая принципиальная.</text>
<text x="973" y="841" text-anchor="middle">Управление дискретными сигналами ПЛК1</text>
<text x="973" y="853" text-anchor="middle">ввода/вывода</text>
<text x="1078" y="871">Формат:А3</text>
</g>
</svg>
</body></html>
